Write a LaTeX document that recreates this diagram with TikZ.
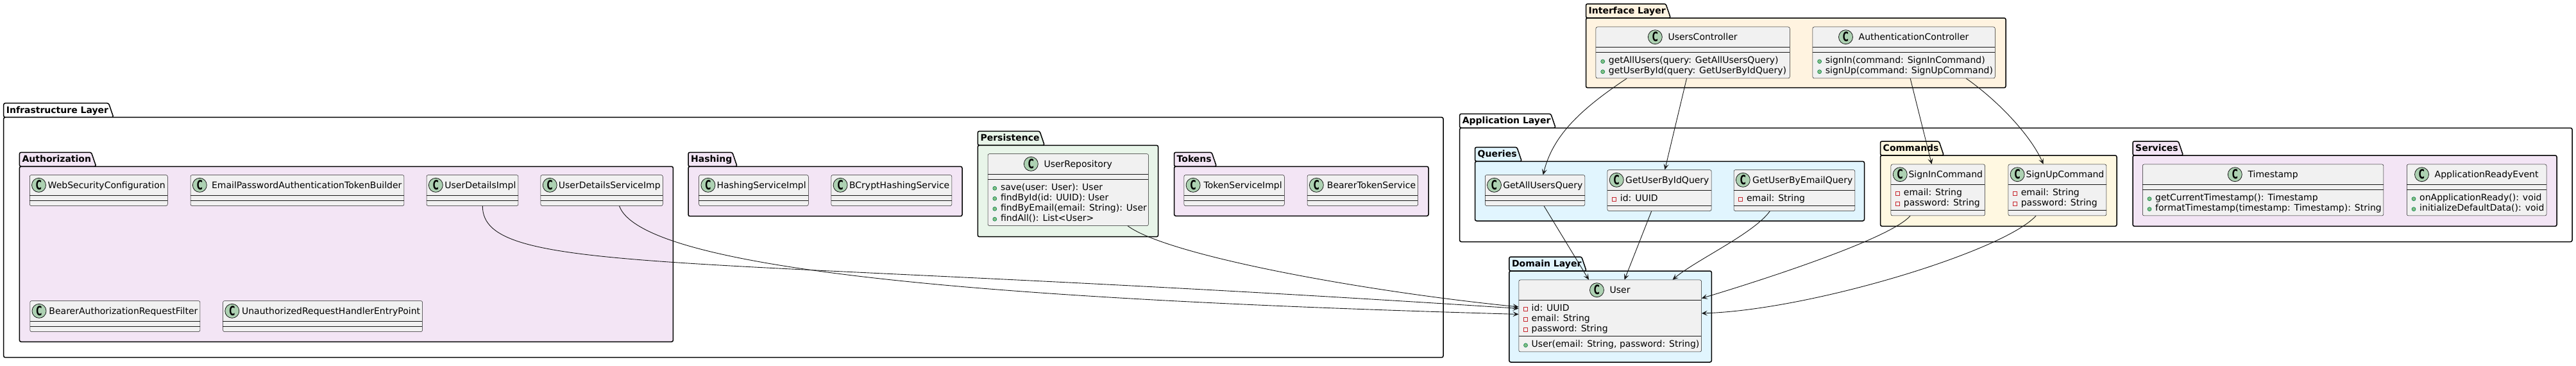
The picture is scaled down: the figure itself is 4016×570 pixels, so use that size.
\documentclass[tikz,border=0pt]{standalone}
\usepackage{fontspec}
\setmainfont{DejaVu Sans}
\usetikzlibrary{arrows.meta}

\definecolor{edgegray}{HTML}{181818}
\definecolor{classfill}{HTML}{F1F1F1}
\definecolor{iconfill}{HTML}{ADD1B2}
\definecolor{privred}{HTML}{C82930}
\definecolor{pubgreen}{HTML}{038048}
\definecolor{publight}{HTML}{84BE84}
\definecolor{peachfill}{HTML}{FFF3E0}
\definecolor{lilacfill}{HTML}{F3E5F5}
\definecolor{skyfill}{HTML}{E1F5FE}
\definecolor{creamfill}{HTML}{FFF8E1}
\definecolor{mintfill}{HTML}{E8F5E9}

\newcommand{\clsfont}{\fontsize{14}{16}\selectfont}
\newcommand{\pkgfont}{\bfseries\fontsize{14}{16}\selectfont}

\tikzstyle{classbox} = [rectangle, rounded corners=2.5pt, draw=edgegray, line width=0.5pt, fill=classfill, inner sep=0pt]
\tikzstyle{classrule} = [draw=edgegray, line width=0.5pt]
\tikzstyle{clsname} = [anchor=base west, inner sep=0pt, font=\clsfont]
\tikzstyle{member} = [anchor=base west, inner sep=0pt, font=\clsfont]
\tikzstyle{cicon} = [circle, draw=edgegray, line width=0.8pt, fill=iconfill, minimum size=22pt, inner sep=0pt, font=\bfseries\fontsize{20}{20}\selectfont]
\tikzstyle{privmark} = [draw=privred, line width=0.8pt]
\tikzstyle{pubmark} = [draw=pubgreen, fill=publight, line width=0.6pt]
\tikzstyle{pkgline} = [draw=black, line width=1.5pt, rounded corners=2.5pt]
\tikzstyle{pkglabel} = [anchor=base west, inner sep=0pt, font=\pkgfont]
\tikzstyle{flow} = [->, >={Stealth[length=9pt, width=8pt, inset=4pt]}, draw=edgegray, line width=0.9pt]

\newdimen\clsw
\newdimen\pkgw

% name, left, top, right, bottom, fill, label
\newcommand{\umlpackage}[7]{%
  \pgfinterruptpicture\setbox0=\hbox{\pkgfont #7}\global\pkgw=\wd0\endpgfinterruptpicture
  \pgfmathsetmacro\pkgtabx{#2+\the\pkgw+12}%
  \draw[pkgline, fill=#6] (#2,#3+22) -- (#2,#3) -- (\pkgtabx-7.5,#3) -- (\pkgtabx,#3+22) -- cycle;
  \draw[pkgline, fill=#6] (#2,#3+22) rectangle (#4,#5);
  \node[pkglabel] (#1) at (#2+4,#3+15.5) {#7};
}

% name, left, top, width, #fields, #methods, title, fields, methods
\newcommand{\umlclass}[9]{%
  \pgfinterruptpicture\setbox0=\hbox{\clsfont #7}\global\clsw=\wd0\endpgfinterruptpicture
  \pgfmathsetmacro\clsgap{min(9,#4-29-\the\clsw)}%
  \pgfmathsetmacro\clsx{#2+(#4-22-\clsgap-\the\clsw)/2}%
  \node[classbox, minimum width=#4pt, minimum height={(48+16*(#5+#6))*1pt}, anchor=north west] (#1) at (#2,#3) {};
  \draw[classrule] (#2,#3+32) -- (#2+#4,#3+32);
  \draw[classrule] (#2,#3+40+16*#5) -- (#2+#4,#3+40+16*#5);
  \node[cicon] (#1-c) at (\clsx+11,#3+16) {\scalebox{0.62}[1]{C}};
  \node[clsname] (#1-t) at (\clsx+22+\clsgap,#3+20.8) {#7};
  \if\relax\detokenize{#8}\relax\else
    \foreach \mtext [count=\row from 0] in {#8} {
      \draw[privmark] (#2+8,#3+43+16*\row) rectangle +(6,6);
      \node[member] (#1-f\row) at (#2+20,#3+49+16*\row) {\mtext};
    }
  \fi
  \if\relax\detokenize{#9}\relax\else
    \foreach \mtext [count=\row from 0] in {#9} {
      \draw[pubmark] (#2+11,#3+54+16*#5+16*\row) circle[radius=3pt];
      \node[member] (#1-m\row) at (#2+20,#3+57+16*#5+16*\row) {\mtext};
    }
  \fi
}

\begin{document}
\begin{tikzpicture}[x=1pt, y=-1pt]
  \fill[white] (0,0) rectangle (4016,570);
  \useasboundingbox (0,0) rectangle (4016,570);

  \umlpackage{iface}{2472.5}{6}{3127}{136.7}{peachfill}{Interface Layer}
  \umlpackage{infra}{5.7}{160.7}{2250}{556.7}{white}{Infrastructure Layer}
  \umlpackage{authz}{30.4}{237.3}{1049.4}{532.3}{lilacfill}{Authorization}
  \umlpackage{hash}{1073}{237.3}{1500}{336.7}{lilacfill}{Hashing}
  \umlpackage{persist}{1524.3}{204.3}{1805.6}{368.7}{mintfill}{Persistence}
  \umlpackage{tokens}{1830.5}{237.3}{2227}{336.3}{lilacfill}{Tokens}
  \umlpackage{app}{2275.6}{177.3}{4010}{376.5}{white}{Application Layer}
  \umlpackage{queries}{2299.5}{229.3}{2906.5}{344}{skyfill}{Queries}
  \umlpackage{cmds}{2931.5}{220}{3300}{352.3}{creamfill}{Commands}
  \umlpackage{services}{3325}{220}{3986}{352.3}{lilacfill}{Services}
  \umlpackage{domain}{2352.8}{400}{2668.3}{564}{skyfill}{Domain Layer}

  \umlclass{usrctl}{2487.7}{41.7}{302.3}{0}{2}{UsersController}{}{getAllUsers(query: GetAllUsersQuery),getUserById(query: GetUserByIdQuery)}
  \umlclass{authctl}{2825.6}{41.7}{284.4}{0}{2}{AuthenticationController}{}{signIn(command: SignInCommand),signUp(command: SignUpCommand)}

  \umlclass{websec}{46}{272.3}{215}{0}{0}{WebSecurityConfiguration}{}{}
  \umlclass{tokbld}{296.8}{272.3}{332.9}{0}{0}{EmailPasswordAuthenticationTokenBuilder}{}{}
  \umlclass{udimpl}{664.8}{272.3}{142.9}{0}{0}{UserDetailsImpl}{}{}
  \umlclass{udsvc}{842.7}{272.3}{190.3}{0}{0}{UserDetailsServiceImp}{}{}
  \umlclass{bearflt}{46.5}{468.3}{265.2}{0}{0}{BearerAuthorizationRequestFilter}{}{}
  \umlclass{unauth}{347.3}{468.3}{311.1}{0}{0}{UnauthorizedRequestHandlerEntryPoint}{}{}
  \umlclass{hashimpl}{1089.4}{272.3}{170.6}{0}{0}{HashingServiceImpl}{}{}
  \umlclass{bcrypt}{1295.6}{272.3}{188}{0}{0}{BCryptHashingService}{}{}
  \umlclass{userrepo}{1539.8}{239.3}{250.4}{0}{4}{UserRepository}{}{save(user: User): User,findById(id: UUID): User,findByEmail(email: String): User,findAll(): List<User>}
  \umlclass{tokimpl}{1845.6}{272.3}{156.4}{0}{0}{TokenServiceImpl}{}{}
  \umlclass{beartok}{2037.8}{272.3}{172.6}{0}{0}{BearerTokenService}{}{}

  \umlclass{allq}{2315}{272.3}{155.6}{0}{0}{GetAllUsersQuery}{}{}
  \umlclass{byidq}{2505.7}{264.3}{162.1}{1}{0}{GetUserByIdQuery}{id: UUID}{}
  \umlclass{byemq}{2702.8}{264.3}{188.8}{1}{0}{GetUserByEmailQuery}{email: String}{}
  \umlclass{signin}{2947.7}{255.7}{146.6}{2}{0}{SignInCommand}{email: String,password: String}{}
  \umlclass{signup}{3130.6}{255.7}{153}{2}{0}{SignUpCommand}{email: String,password: String}{}
  \umlclass{tstamp}{3340}{255.7}{375.7}{0}{2}{Timestamp}{}{getCurrentTimestamp(): Timestamp,formatTimestamp(timestamp: Timestamp): String}
  \umlclass{appready}{3752}{255.7}{217.8}{0}{2}{ApplicationReadyEvent}{}{onApplicationReady(): void,initializeDefaultData(): void}

  \umlclass{user}{2367.5}{435.7}{284.8}{3}{1}{User}{id: UUID,email: String,password: String}{{User(email: String, password: String)}}

  \draw[flow] ([xshift=-103pt]usrctl.south) .. controls +(-75,50) and +(15,-60) .. ([xshift=12.6pt]allq.north);
  \draw[flow] ([xshift=-9.6pt]usrctl.south) -- ([xshift=8.5pt]byidq.north);
  \draw[flow] ([xshift=10.1pt]authctl.south) -- ([xshift=-9.7pt]signin.north);
  \draw[flow] ([xshift=97.2pt]authctl.south) .. controls +(50,35) and +(-20,-45) .. ([xshift=-21.7pt]signup.north);
  \draw[flow] ([xshift=14pt]allq.south) -- ([xshift=-33.2pt]user.north);
  \draw[flow] ([xshift=-12.3pt]byidq.south) -- ([xshift=22.4pt]user.north);
  \draw[flow] ([xshift=-38.2pt]byemq.south) .. controls +(-25,35) and +(35,-30) .. ([xshift=97.4pt]user.north);
  \draw[flow] ([xshift=-43.3pt]signin.south) .. controls +(-30,35) and +(100,-30) .. ([yshift=27.4pt]user.east);
  \draw[flow] ([xshift=-33.4pt]signup.south) .. controls +(-50,55) and +(170,-5) .. ([yshift=4pt]user.east);
  \draw[flow] ([xshift=92.9pt]userrepo.south) .. controls +(60,45) and +(-250,-25) .. ([yshift=14pt]user.west);
  \draw[flow] ([xshift=15.8pt]udimpl.south) .. controls +(0,110) and +(-1300,-85) .. ([yshift=11.5pt]user.west);
  \draw[flow] ([xshift=27.4pt]udsvc.south) .. controls +(40,110) and +(-700,-20) .. ([yshift=2.5pt]user.west);
\end{tikzpicture}
\end{document}
